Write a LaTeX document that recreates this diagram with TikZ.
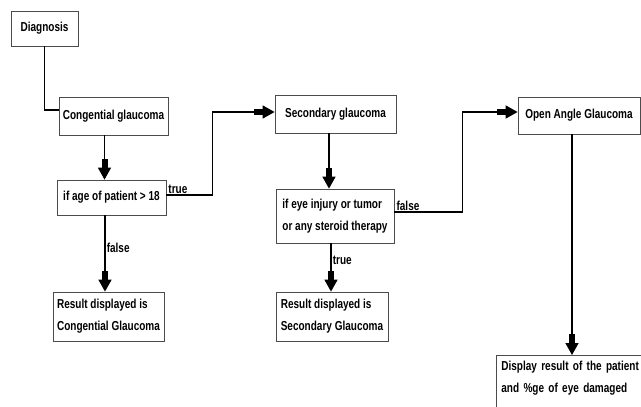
\documentclass[tikz,border=0pt]{standalone}
\usepackage{fontspec}
\setmainfont[FakeStretch=0.77]{Liberation Sans}
\usetikzlibrary{arrows.meta,positioning}

\begin{document}
\begin{tikzpicture}[x=1pt, y=-1pt,
					every node/.style={font=\fontsize{13}{22}\selectfont\bfseries},
					box/.style={draw=black!70, line width=.8pt, inner sep=3pt},
					multibox/.style={box, align=left},
					link/.style={line width=1.6pt},
					arr/.style={link, -{Rectangle[length=9pt,width=6pt]Triangle[length=12pt,width=13pt]}},
					lbl/.style={inner sep=1pt}
				]
				\useasboundingbox (0,0) rectangle (641,407);
				\clip (0,0) rectangle (641,407);
				% left column
				\node[box, minimum width=67pt, minimum height=35pt] (diag) at (44.5,28.5) {Diagnosis};
				\node[box, minimum width=109pt, minimum height=38pt] (cong) at (113.5,116) {Congential glaucoma};
				\node[box, minimum width=109pt, minimum height=35pt] (age) at (111.5,197.5) {if age of patient > 18};
				\node[multibox, minimum width=111pt, minimum height=49pt] (rescong) at (108.5,316.5) {Result displayed is\\Congential Glaucoma};
				% middle column
				\node[box, minimum width=121pt, minimum height=38pt] (sec) at (335.5,114) {Secondary glaucoma};
				\node[multibox, minimum width=118pt, minimum height=54pt] (eye) at (335,216) {if eye injury or tumor\\or any steroid therapy};
				\node[multibox, minimum width=112pt, minimum height=49pt] (ressec) at (332,316.5) {Result displayed is\\Secondary Glaucoma};
				% right column
				\node[box, minimum width=122pt, minimum height=37pt] (open) at (579,115.5) {Open Angle Glaucoma};
				\node[multibox, text width=170pt, inner xsep=5pt, inner ysep=6pt, anchor=north west] (disp) at (496,355) {Display result of the patient\\and \%ge of eye damaged\\\mbox{}};
				
				\draw[link] (diag.south) |- ([yshift=6pt]cong.west);
				\draw[arr] ([xshift=-9pt]cong.south) -- ([xshift=-9pt]cong.south |- age.north);
				\draw[arr] ([yshift=2.5pt]age.east) -- node[lbl, above, pos=.25] {true} ++(46,0) |- ([yshift=2pt]sec.west);
				\draw[arr] ([xshift=-6.5pt]age.south) -- node[lbl, right, pos=.42] {false} ([xshift=-6.5pt]age.south |- rescong.north);
				\draw[arr] ([xshift=-6.5pt]sec.south) -- ([xshift=-6.5pt]sec.south |- eye.north);
				\draw[arr] ([yshift=4pt]eye.east) -- node[lbl, above, pos=.2] {false} ++(68,0) |- ([yshift=3.5pt]open.west);
				\draw[arr] ([xshift=-4pt]eye.south) -- node[lbl, right, pos=.35] {true} ([xshift=-4pt]eye.south |- ressec.north);
				\draw[arr] ([xshift=-7pt]open.south) -- ([xshift=-7pt]open.south |- disp.north);
			\end{tikzpicture}
\end{document}
